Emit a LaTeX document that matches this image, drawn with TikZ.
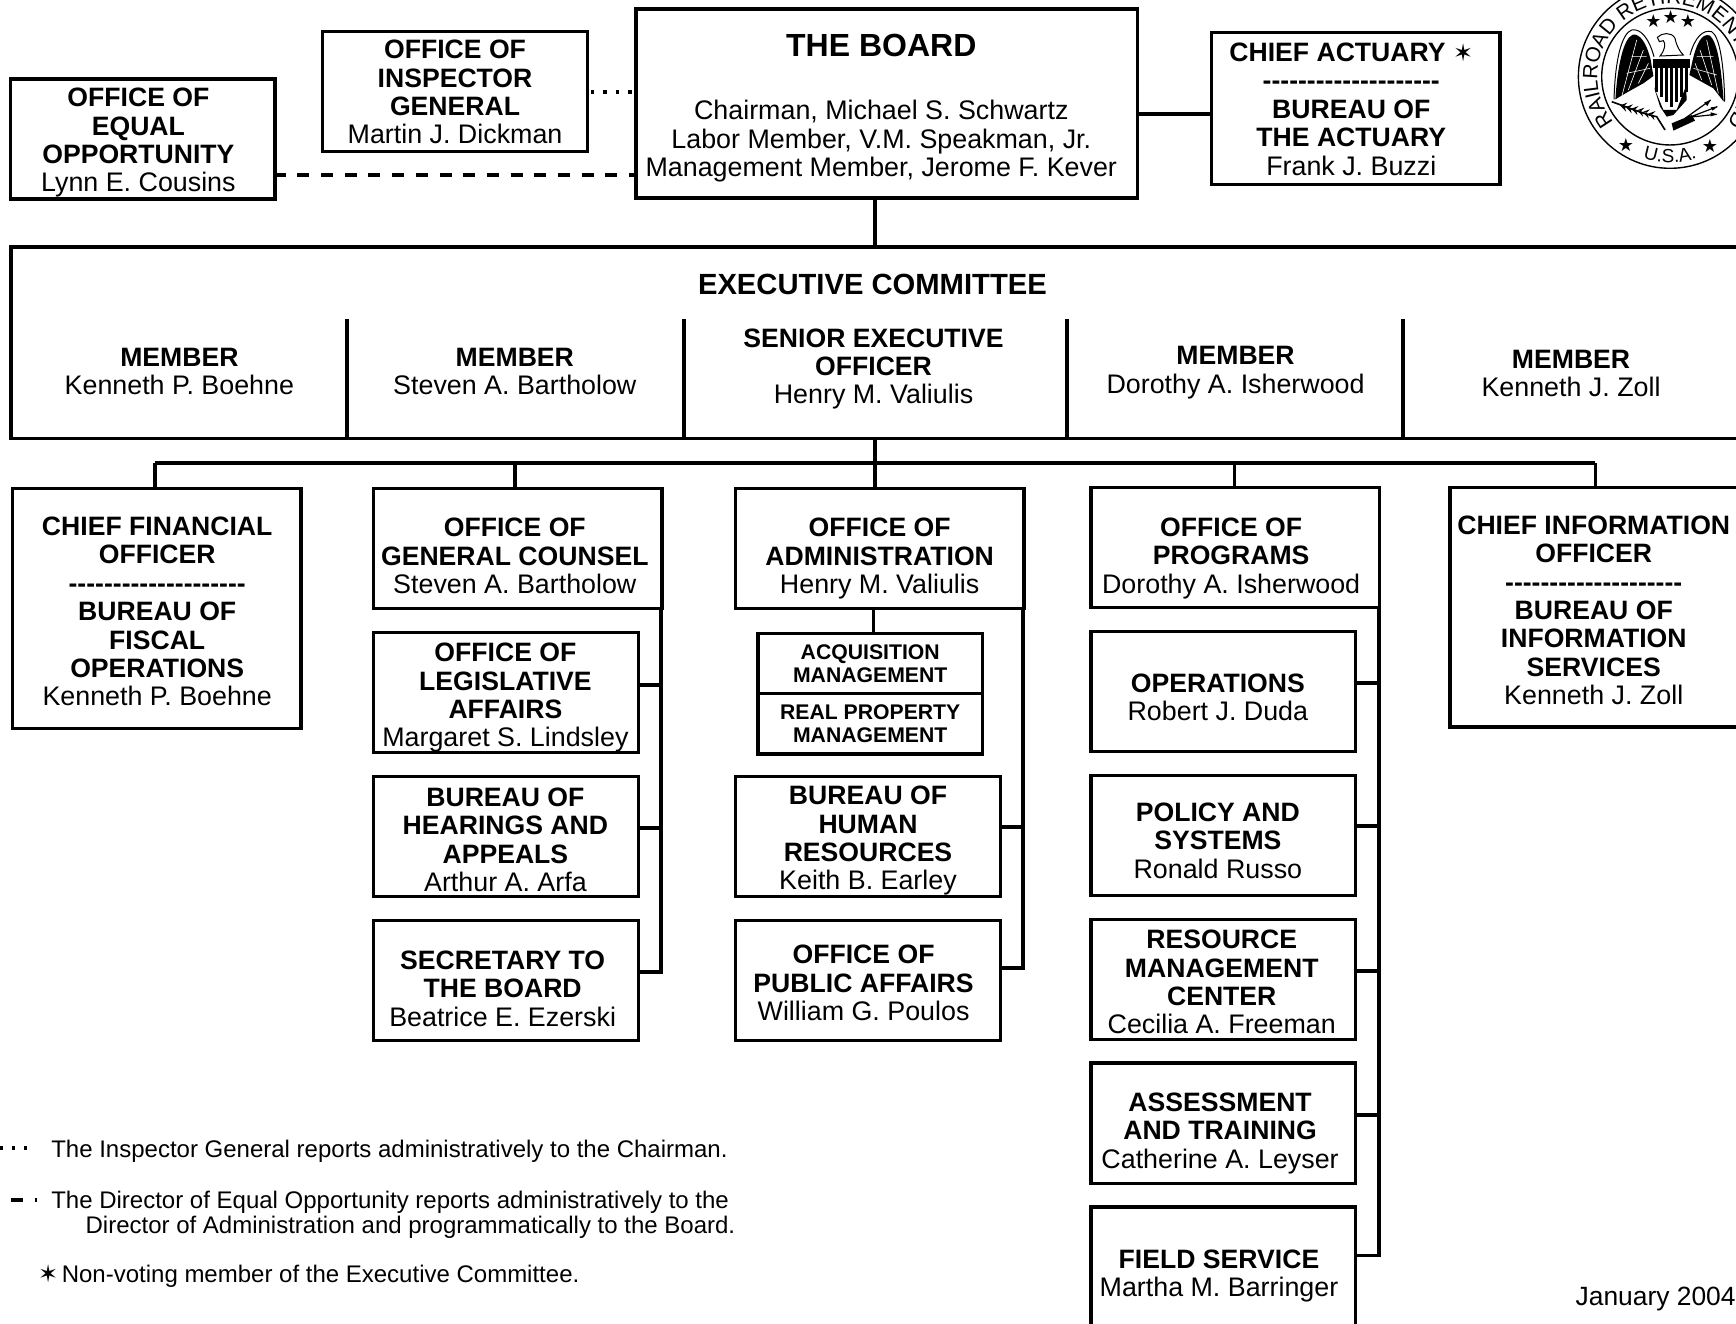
\documentclass[tikz,border=0pt]{standalone}
\usepackage{fontspec}
\setmainfont{Liberation Sans}[Ligatures=TeXOff]
\newfontfamily\starfont{DejaVu Sans}
\usepackage{tikz}
\usetikzlibrary{decorations.text}

\newlength{\unitlen}
\setlength{\unitlen}{0.5536pt}
\newcommand{\namefont}{\fontsize{13.42}{14.2}\selectfont}
\newcommand{\ttl}[1]{{\fontsize{13.3}{14.2}\selectfont\bfseries #1}}
\newcommand{\dashrow}{\ttl{--------------------}}
\newcommand{\voter}[1]{{\starfont\fontsize{#1}{12}\selectfont ✶}}

\tikzset{
    orgbox/.style={draw,line width=1.7pt,inner sep=0pt,outer sep=0pt,align=center,font=\namefont},
    narrowbox/.style={orgbox,minimum width=239\unitlen,minimum height=108.5\unitlen},
    widebox/.style={orgbox,minimum width=260.5\unitlen,minimum height=108.5\unitlen},
    tallbox/.style={orgbox,minimum width=260.5\unitlen,minimum height=216.5\unitlen},
    smallbox/.style={orgbox,minimum width=203\unitlen,minimum height=54.5\unitlen,font=\fontsize{10.6}{11.6}\selectfont\bfseries},
    plaintext/.style={inner sep=0pt,align=center,font=\namefont},
    legendtext/.style={inner sep=0pt,align=left,font=\fontsize{12}{12.4}\selectfont},
    sealstar/.style={inner sep=0pt,font=\starfont\fontsize{9}{12}\selectfont},
    link/.style={line width=1.9pt},
    dashlink/.style={line width=2pt,dash pattern=on 6pt off 5.85pt},
    dotlink/.style={line width=1.7pt,dash pattern=on 1.7pt off 4.55pt},
    sealring/.style={line width=0.7pt}
}

\begin{document}
\begin{tikzpicture}[x=\unitlen,y=-\unitlen]
    \useasboundingbox (0,0) rectangle (1568,1195);
    \begin{scope}
    \clip (0,0) rectangle (1568,1195);

    % board row
    \node [narrowbox] (equal) at (129,125.5) {};
    \node [plaintext] (equaltext) at (125,129) {\ttl{OFFICE OF}\\\ttl{EQUAL}\\\ttl{OPPORTUNITY}\\Lynn E. Cousins};
    \node [narrowbox] (inspector) at (411,82.5) {};
    \node [plaintext] (inspectortext) at (411,83.3) {\ttl{OFFICE OF}\\\ttl{INSPECTOR}\\\ttl{GENERAL}\\Martin J. Dickman};
    \node [orgbox,minimum width=453\unitlen,minimum height=170.5\unitlen] (board) at (801,93.5) {};
    \node [plaintext,font=\fontsize{16}{17}\selectfont\bfseries] (boardtitle) at (796,41) {THE BOARD};
    \node [plaintext] (boardnames) at (796,127.5) {Chairman, Michael S. Schwartz\\Labor Member, V.M. Speakman, Jr.\\Management Member, Jerome F. Kever};
    \node [orgbox,minimum width=260.5\unitlen,minimum height=137.5\unitlen] (actuary) at (1224.5,98) {};
    \node [plaintext] (actuarytext) at (1220.5,98.6) {\ttl{CHIEF ACTUARY \voter{12}}\\\dashrow\\\ttl{BUREAU OF}\\\ttl{THE ACTUARY}\\Frank J. Buzzi};

    % executive committee
    \node [orgbox,minimum width=1562\unitlen,minimum height=173\unitlen] (exec) at (790.8,309.5) {};
    \node [plaintext,font=\fontsize{14.6}{16}\selectfont\bfseries] (exectitle) at (788,257) {EXECUTIVE COMMITTEE};
    \node [plaintext] (boehne) at (162,335.3) {\ttl{MEMBER}\\Kenneth P. Boehne};
    \node [plaintext] (bartholow) at (465,335.3) {\ttl{MEMBER}\\Steven A. Bartholow};
    \node [plaintext] (valiulis) at (789,333.3) {\ttl{SENIOR EXECUTIVE}\\\ttl{OFFICER}\\Henry M. Valiulis};
    \node [plaintext] (isherwood) at (1116,336.5) {\ttl{MEMBER}\\Dorothy A. Isherwood};
    \node [plaintext] (zoll) at (1419,337.3) {\ttl{MEMBER}\\Kenneth J. Zoll};
    \foreach \i in {313.5, 617.5, 964, 1267.5}{
        \coordinate (divider) at (\i,288);
        \draw [link] (divider) -- (divider |- exec.south);
    }

    % departments
    \node [tallbox] (cfo) at (141.5,549.5) {};
    \node [plaintext] (cfotext) at (142,552.3) {\ttl{CHIEF FINANCIAL}\\\ttl{OFFICER}\\\dashrow\\\ttl{BUREAU OF}\\\ttl{FISCAL}\\\ttl{OPERATIONS}\\Kenneth P. Boehne};

    \node [widebox] (counsel) at (467.8,495.5) {};
    \node [plaintext] (counseltext) at (465,502.2) {\ttl{OFFICE OF}\\\ttl{GENERAL COUNSEL}\\Steven A. Bartholow};
    \node [narrowbox] (legislative) at (457,625.5) {};
    \node [plaintext] (legislativetext) at (456.5,630.2) {\ttl{OFFICE OF}\\\ttl{LEGISLATIVE}\\\ttl{AFFAIRS}\\Margaret S. Lindsley};
    \node [narrowbox] (hearings) at (457,755.5) {};
    \node [plaintext] (hearingstext) at (456.5,758.5) {\ttl{BUREAU OF}\\\ttl{HEARINGS AND}\\\ttl{APPEALS}\\Arthur A. Arfa};
    \node [narrowbox] (secretary) at (457,885.5) {};
    \node [plaintext] (secretarytext) at (454,892.8) {\ttl{SECRETARY TO}\\\ttl{THE BOARD}\\Beatrice E. Ezerski};

    \node [widebox] (admin) at (794.8,495.5) {};
    \node [plaintext] (admintext) at (794.5,504.5) {\ttl{OFFICE OF}\\\ttl{ADMINISTRATION}\\Henry M. Valiulis};
    \node [smallbox] (acquisition) at (786,599.25) {ACQUISITION\\MANAGEMENT};
    \node [smallbox] (realproperty) at (786,653.75) {REAL PROPERTY\\MANAGEMENT};
    \node [narrowbox] (human) at (784,755.5) {};
    \node [plaintext] (humantext) at (784,759.5) {\ttl{BUREAU OF}\\\ttl{HUMAN}\\\ttl{RESOURCES}\\Keith B. Earley};
    \node [narrowbox] (public) at (784,885.5) {};
    \node [plaintext] (publictext) at (780,887.8) {\ttl{OFFICE OF}\\\ttl{PUBLIC AFFAIRS}\\William G. Poulos};

    \node [widebox] (programs) at (1115.5,494.5) {};
    \node [plaintext] (programstext) at (1112,504.2) {\ttl{OFFICE OF}\\\ttl{PROGRAMS}\\Dorothy A. Isherwood};
    \node [narrowbox] (operations) at (1105,624.5) {};
    \node [plaintext] (operationstext) at (1100,630) {\ttl{OPERATIONS}\\Robert J. Duda};
    \node [narrowbox] (policy) at (1105,754.5) {};
    \node [plaintext] (policytext) at (1100,759.2) {\ttl{POLICY AND}\\\ttl{SYSTEMS}\\Ronald Russo};
    \node [narrowbox] (resource) at (1105,884.5) {};
    \node [plaintext] (resourcetext) at (1103.5,887) {\ttl{RESOURCE}\\\ttl{MANAGEMENT}\\\ttl{CENTER}\\Cecilia A. Freeman};
    \node [narrowbox] (assessment) at (1105,1014.5) {};
    \node [plaintext] (assessmenttext) at (1102,1023.6) {\ttl{ASSESSMENT}\\\ttl{AND TRAINING}\\Catherine A. Leyser};
    \node [narrowbox] (field) at (1105,1144.5) {};
    \node [plaintext] (fieldtext) at (1101,1152.5) {\ttl{FIELD SERVICE}\\Martha M. Barringer};

    \node [tallbox] (cio) at (1439.8,548.5) {};
    \node [plaintext] (ciotext) at (1439.5,551.3) {\ttl{CHIEF INFORMATION}\\\ttl{OFFICER}\\\dashrow\\\ttl{BUREAU OF}\\\ttl{INFORMATION}\\\ttl{SERVICES}\\Kenneth J. Zoll};

    % connectors
    \coordinate (bus) at (790,418);
    \draw [link] (bus |- board.south) -- (bus |- exec.north);
    \draw [link] (bus |- exec.south) -- (bus |- admin.north);
    \coordinate (actuarylink) at (1028,103);
    \draw [link] (actuarylink) -- (actuarylink -| actuary.west);
    \coordinate (dashstart) at (249,158);
    \draw [dashlink,dash phase=1pt] (dashstart) -- (dashstart -| board.west);
    \coordinate (dotstart) at (533.5,83);
    \draw [dotlink] (dotstart) -- (dotstart -| board.west);

    \draw [link] (140,418) -- (1441,418);
    \foreach \name/\xpos in {cfo/140, counsel/465, programs/1115, cio/1441}{
        \coordinate (tick) at (\xpos,418);
        \draw [link] (tick) -- (tick |- \name.north);
    }

    \coordinate (legal) at (597.3,878);
    \draw [link] (legal |- counsel.south) -- (legal) -- (legal -| secretary.east);
    \foreach \name/\ypos in {legislative/619, hearings/748}{
        \coordinate (stub) at (597.3,\ypos);
        \draw [link] (stub) -- (stub -| \name.east);
    }

    \coordinate (adminbus) at (924.3,874);
    \draw [link] (adminbus |- admin.south) -- (adminbus) -- (adminbus -| public.east);
    \coordinate (stub) at (924.3,747);
    \draw [link] (stub) -- (stub -| human.east);
    \coordinate (stub) at (789,572);
    \draw [link] (stub) -- (stub |- admin.south);

    \coordinate (programbus) at (1245.5,1134);
    \draw [link] (programbus |- programs.south) -- (programbus) -- (programbus -| field.east);
    \foreach \name/\ypos in {operations/617, policy/746, resource/877, assessment/1007}{
        \coordinate (stub) at (1245.5,\ypos);
        \draw [link] (stub) -- (stub -| \name.east);
    }

    % legend
    \coordinate (legenddots) at (-0.5,1037);
    \draw [dotlink] (legenddots) -- ++(25,0);
    \coordinate (legenddash) at (10,1084);
    \draw [dashlink] (legenddash) -- ++(23,0);
    \node [legendtext,anchor=west] (legendone) at (46,1040) {The Inspector General reports administratively to the Chairman.};
    \node [legendtext,anchor=west] (legendtwo) at (46,1097.5) {The Director of Equal Opportunity reports administratively to the\\\hspace*{31\unitlen}Director of Administration and programmatically to the Board.};
    \node [legendtext,anchor=west] (legendthree) at (34,1153) {\voter{12}\hspace{-1.5pt} Non-voting member of the Executive Committee.};
    \node [plaintext,font=\fontsize{13.2}{14}\selectfont,anchor=east] (date) at (1568,1173) {January 2004};

    % seal, in crop coordinates
    \begin{scope}[shift={(1354.9,0)},scale=0.301]
        \draw [sealring] (510,230) circle (275);
        \draw [sealring] (510,230) circle (205);
        \path [decorate,decoration={text along path,text align=fit to path,text={|\fontsize{10.4}{12}\selectfont|RAILROAD RETIREMENT BOARD}}]
            (510,230) ++(141:218) arc [start angle=141,end angle=399,radius=218];
        \path [decorate,decoration={text along path,text align=center,text={|\fontsize{9.5}{12}\selectfont|U.S.A.}}]
            (510,230) ++(110:258) arc [start angle=110,end angle=70,radius=258];
        \node [sealstar] (stara) at (460,62) {★};
        \node [sealstar] (starb) at (512,52) {★};
        \node [sealstar] (starc) at (564,64) {★};
        \node [sealstar] (stard) at (378,435) {★};
        \node [sealstar] (stare) at (630,438) {★};
        % wings
        \draw [line width=0.5pt] (462,170) .. controls (445,110) and (420,85) .. (395,90) .. controls (365,100) and (345,180) .. (342,298);
        \draw [line width=0.5pt] (570,165) .. controls (585,110) and (610,88) .. (635,95) .. controls (660,110) and (672,200) .. (674,305);
        \fill (452,180) .. controls (440,130) and (420,100) .. (398,104) .. controls (370,115) and (352,200) .. (346,298) -- (385,275) -- (430,250) -- (460,228) -- cycle;
        \fill (578,180) .. controls (590,130) and (605,100) .. (628,106) .. controls (655,125) and (665,220) .. (671,305) -- (640,265) -- (595,240) -- (568,225) -- cycle;
        \draw [white,line width=0.3pt] (410,120) -- (365,290) (430,150) -- (385,270) (445,190) -- (415,250) (395,170) -- (440,170) (380,220) -- (450,205);
        \draw [white,line width=0.3pt] (620,120) -- (655,280) (600,150) -- (635,255) (585,190) -- (605,240) (590,170) -- (640,170) (580,205) -- (650,225);
        % head
        \draw [line width=0.5pt,fill=white] (472,112) .. controls (485,98) and (515,95) .. (525,115) .. controls (530,140) and (540,155) .. (550,165) -- (480,168) .. controls (495,150) and (498,130) .. (490,122) -- (478,125) -- cycle;
        % tail and legs
        \fill (462,262) -- (480,320) -- (500,350) -- (520,345) -- (560,300) -- (558,258) -- (530,330) -- (490,330) -- cycle;
        % shield
        \fill (458,178) -- (570,178) -- (570,205) -- (458,205) -- cycle;
        \foreach \i in {0,...,6}{
            \fill ({466+\i*15},205) -- ({474+\i*15},205) -- ({474+\i*15},{320-abs(\i-3)*15}) -- ({466+\i*15},{320-abs(\i-3)*15}) -- cycle;
        }
        % branch and arrows
        \draw [line width=0.8pt] (335,305) .. controls (390,325) and (440,345) .. (470,350) -- (495,390);
        \foreach \i in {0,...,5}{
            \fill ({360+\i*17},{316+\i*5}) -- ({382+\i*17},{308+\i*5}) -- ({372+\i*17},{318+\i*5}) -- cycle;
            \fill ({360+\i*17},{316+\i*5}) -- ({378+\i*17},{335+\i*5}) -- ({374+\i*17},{320+\i*5}) -- cycle;
        }
        \fill (515,370) -- (575,345) -- (585,362) -- (520,392) -- cycle;
        \draw [line width=0.6pt] (555,355) -- (632,300) (560,355) -- (652,320) (565,352) -- (650,343);
        \fill (632,300) -- (612,308) -- (622,318) -- cycle;
        \fill (652,320) -- (632,322) -- (638,332) -- cycle;
        \fill (652,343) -- (632,337) -- (632,349) -- cycle;
    \end{scope}
    \end{scope}
\end{tikzpicture}
\end{document}
